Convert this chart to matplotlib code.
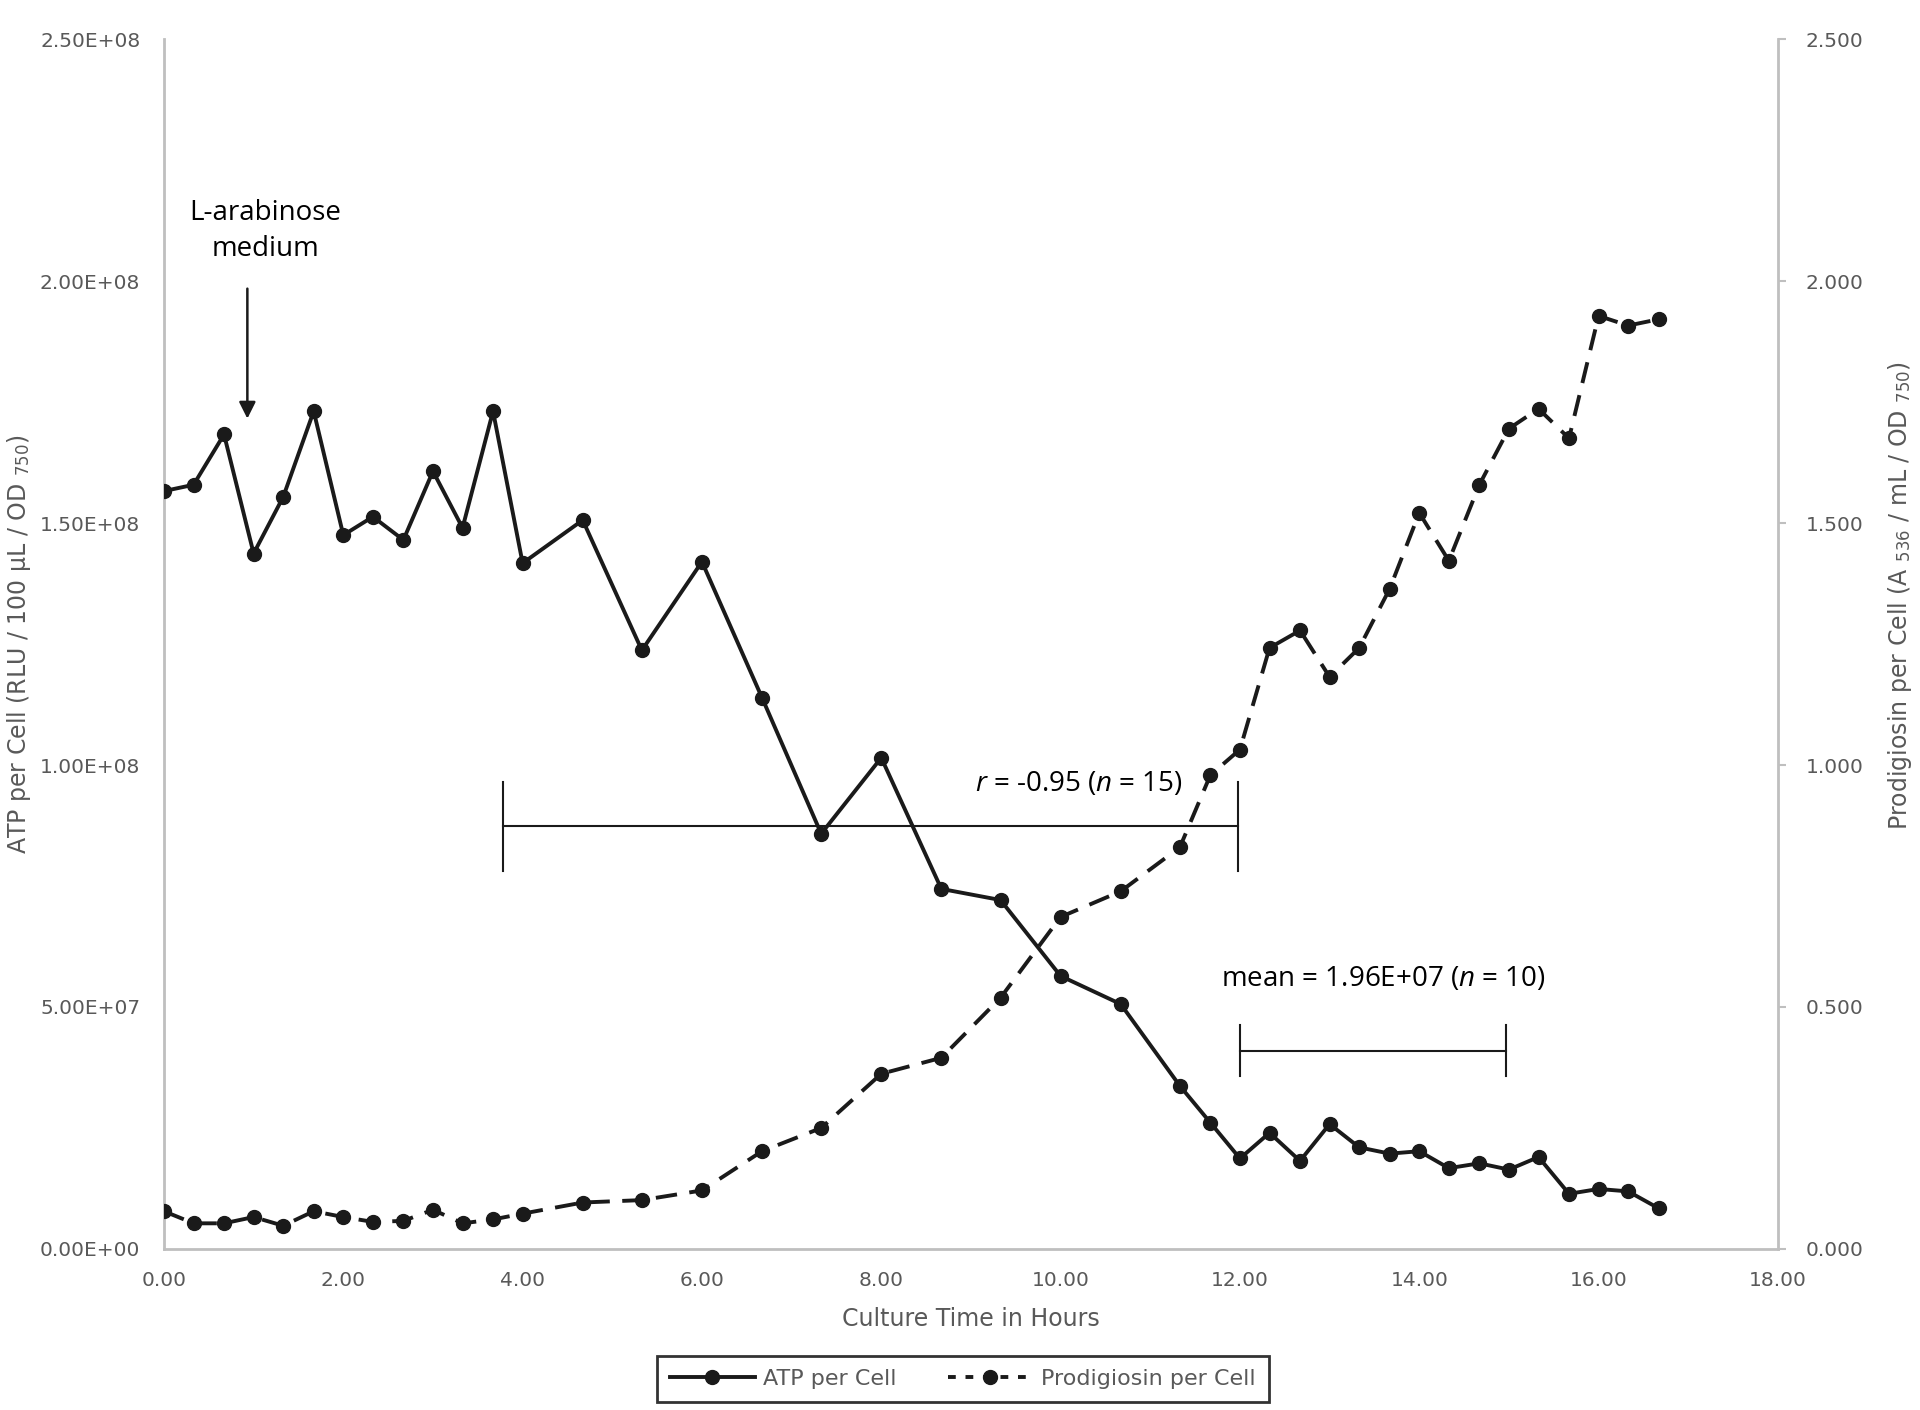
# ATP vs prodigiosin per cell over culture time
import matplotlib
matplotlib.use("Agg")
import matplotlib.pyplot as plt
from matplotlib.lines import Line2D

plt.rcParams['mathtext.fontset'] = 'custom'
plt.rcParams['mathtext.rm'] = 'Open Sans'
plt.rcParams['mathtext.it'] = 'Open Sans:italic'

# culture time (hours)
hours = [0.00, 0.33, 0.67, 1.00, 1.33, 1.67, 2.00, 2.33, 2.67, 3.00, 3.33, 3.67,
         4.00, 4.67, 5.33, 6.00, 6.67, 7.33, 8.00, 8.67, 9.33, 10.00, 10.67,
         11.33, 11.67, 12.00, 12.33, 12.67, 13.00, 13.33, 13.67, 14.00, 14.33,
         14.67, 15.00, 15.33, 15.67, 16.00, 16.33, 16.67]

# ATP per cell (RLU / 100 uL / OD750)
atp = [1.566e8, 1.579e8, 1.683e8, 1.437e8, 1.554e8, 1.731e8, 1.475e8, 1.513e8,
       1.465e8, 1.607e8, 1.490e8, 1.731e8, 1.417e8, 1.506e8, 1.237e8, 1.420e8,
       1.139e8, 0.858e8, 1.015e8, 0.744e8, 0.721e8, 0.564e8, 0.506e8, 0.337e8,
       0.261e8, 0.187e8, 0.240e8, 0.182e8, 0.258e8, 0.210e8, 0.197e8, 0.202e8,
       0.167e8, 0.177e8, 0.164e8, 0.190e8, 0.114e8, 0.124e8, 0.119e8, 0.084e8]

# prodigiosin per cell (A536 / mL / OD750)
prodigiosin = [0.078, 0.053, 0.053, 0.066, 0.048, 0.078, 0.066, 0.056, 0.058,
               0.081, 0.053, 0.061, 0.073, 0.096, 0.101, 0.121, 0.202, 0.250,
               0.362, 0.395, 0.519, 0.686, 0.739, 0.830, 0.979, 1.032, 1.242,
               1.278, 1.182, 1.242, 1.364, 1.521, 1.422, 1.579, 1.695, 1.736,
               1.675, 1.928, 1.908, 1.921]

x_ticks = [0, 2, 4, 6, 8, 10, 12, 14, 16, 18]
left_ticks = [0, 0.5e8, 1.0e8, 1.5e8, 2.0e8, 2.5e8]
right_ticks = [0, 0.5, 1.0, 1.5, 2.0, 2.5]

# bracket annotations: (x_start, x_end, y, cap half height)
r_bracket = (3.78, 11.98, 0.873e8, 0.092e8)
r_label = (r"$\it{r}$ = -0.95 ($\it{n}$ = 15)", 10.2, 0.96e8)
mean_bracket = (12.0, 14.97, 0.41e8, 0.052e8)
mean_label = (r"mean = 1.96E+07 ($\it{n}$ = 10)", 13.6, 0.557e8)

grey = '#bfbfbf'
tick_col = '#595959'
ink = '#1a1a1a'

fig = plt.figure(figsize=(19.2, 14.1), dpi=100)
ax = fig.add_axes([0.0854, 0.1142, 0.8406, 0.8581])
ax2 = ax.twinx()

ax.plot(hours, atp, color=ink, lw=2.8, marker='o', ms=10, zorder=3)
ax2.plot(hours, prodigiosin, color=ink, lw=2.8, ls=(0, (5.5, 3.2)),
         marker='o', ms=10, zorder=3)

ax.set_xlim(0, 18)
ax.set_ylim(0, 2.5e8)
ax2.set_ylim(0, 2.5)
ax.set_xticks(x_ticks)
ax.set_xticklabels([f"{v:.2f}" for v in x_ticks])
ax.set_yticks(left_ticks)
ax.set_yticklabels([f"{v:.2E}" for v in left_ticks])
ax2.set_yticks(right_ticks)
ax2.set_yticklabels([f"{v:.3f}" for v in right_ticks])

for a in (ax, ax2):
    for s in a.spines.values():
        s.set_visible(False)
ax.spines['left'].set_visible(True)
ax.spines['bottom'].set_visible(True)
ax2.spines['right'].set_visible(True)
for s in (ax.spines['left'], ax.spines['bottom'], ax2.spines['right']):
    s.set_color(grey)
    s.set_linewidth(2)

ax.tick_params(axis='y', length=0, pad=17, labelsize=14.5, labelcolor=tick_col)
ax.tick_params(axis='x', length=0, pad=16, labelsize=14.5, labelcolor=tick_col)
ax2.tick_params(axis='y', length=6, width=1.5, color=grey, pad=14,
                labelsize=14.5, labelcolor=tick_col)

ax.set_xlabel("Culture Time in Hours", fontsize=17, color=tick_col, labelpad=12)
ax.set_ylabel(r"ATP per Cell (RLU / 100 µL / OD $_{\mathregular{750}}$)",
              fontsize=17, color=tick_col)
ax2.set_ylabel(r"Prodigiosin per Cell (A $_{\mathregular{536}}$ / mL / OD $_{\mathregular{750}}$)",
               fontsize=17, color=tick_col)
ax.yaxis.set_label_coords(-0.081, 0.5)
ax2.yaxis.set_label_coords(1.067, 0.54)

# L-arabinose arrow
ax.text(1.13, 2.103e8, "L-arabinose\nmedium", ha='center', va='center',
        family='Open Sans', fontsize=20, linespacing=1.4)
ax.annotate("", xy=(0.93, 1.71e8), xytext=(0.93, 1.99e8),
            arrowprops=dict(arrowstyle='-|>', color=ink, lw=1.8,
                            mutation_scale=25))

for (x0, x1, y, h) in (r_bracket, mean_bracket):
    ax.plot([x0, x1], [y, y], color=ink, lw=1.5, zorder=2)
    ax.plot([x0, x0], [y - h, y + h], color=ink, lw=1.5, zorder=2)
    ax.plot([x1, x1], [y - h, y + h], color=ink, lw=1.5, zorder=2)
for (txt, tx, ty) in (r_label, mean_label):
    ax.text(tx, ty, txt, ha='center', va='center', family='Open Sans',
            fontsize=20)

handles = [Line2D([], [], color=ink, lw=2.8, marker='o', ms=10),
           Line2D([], [], color=ink, lw=2.8, ls=(0, (2, 2.5)), marker='o', ms=10)]
leg = fig.legend(handles, ["ATP per Cell", "Prodigiosin per Cell"], loc='center',
                 bbox_to_anchor=(0.5016, 0.022), ncol=2, frameon=True,
                 fancybox=False, prop={'size': 16}, handlelength=3.8,
                 handletextpad=0.4, columnspacing=2.3, borderpad=0.6)
leg.get_frame().set_edgecolor('black')
leg.get_frame().set_linewidth(2)
for t in leg.get_texts():
    t.set_color(tick_col)

fig.savefig("out.png", dpi=100)
